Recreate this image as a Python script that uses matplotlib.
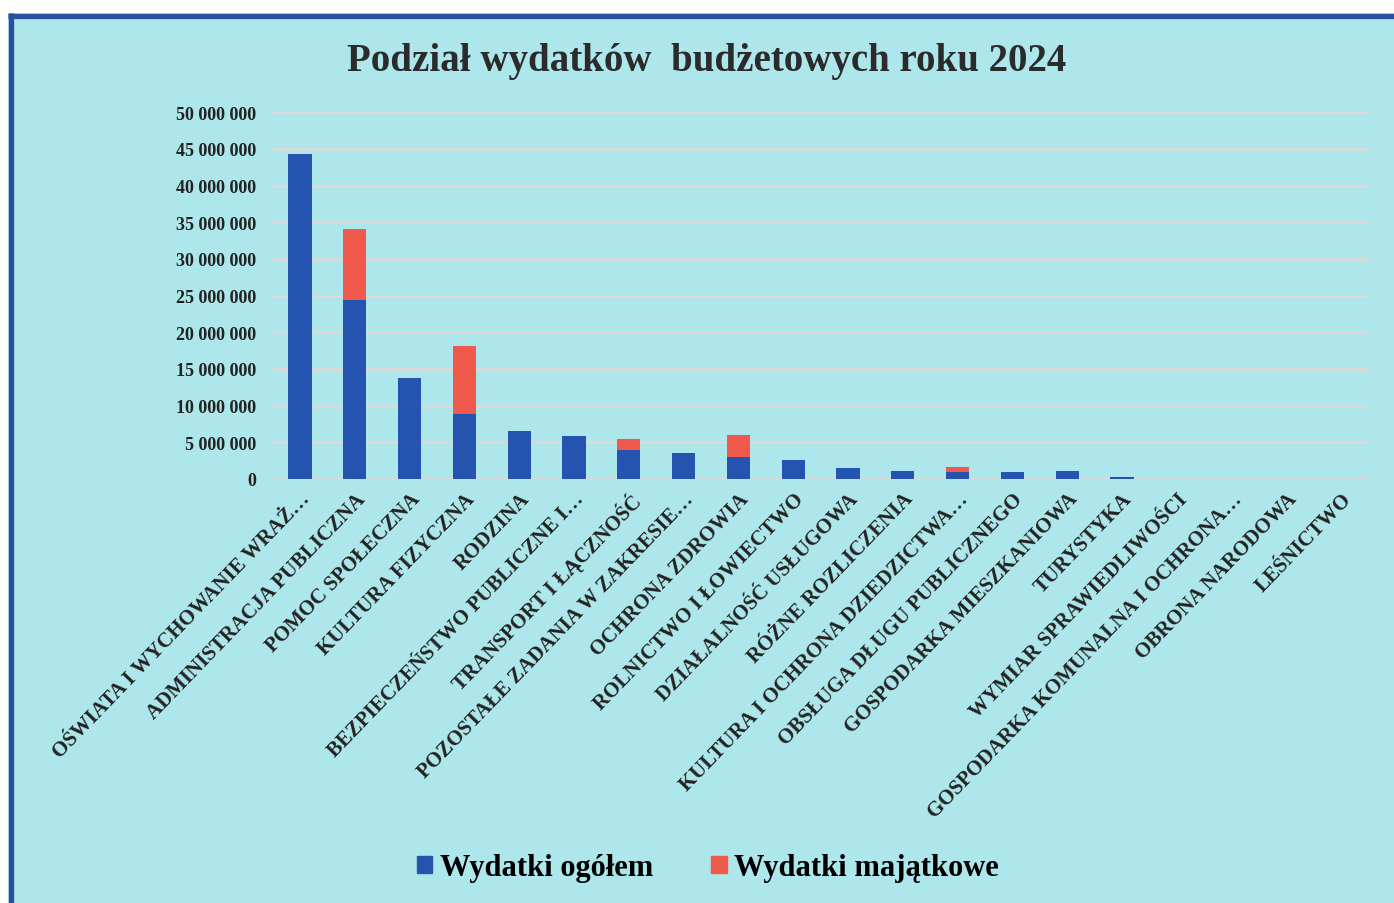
import matplotlib.pyplot as plt
import matplotlib.ticker as mticker
from matplotlib.patches import Rectangle, Patch
from matplotlib.lines import Line2D

# dane (w zł)
kategorie = [
    "OŚWIATA I WYCHOWANIE WRAŻ…", "ADMINISTRACJA PUBLICZNA", "POMOC SPOŁECZNA",
    "KULTURA FIZYCZNA", "RODZINA", "BEZPIECZEŃSTWO PUBLICZNE I…",
    "TRANSPORT I ŁĄCZNOŚĆ", "POZOSTAŁE ZADANIA W ZAKRESIE…", "OCHRONA ZDROWIA",
    "ROLNICTWO I ŁOWIECTWO", "DZIAŁALNOŚĆ USŁUGOWA", "RÓŻNE ROZLICZENIA",
    "KULTURA I OCHRONA DZIEDZICTWA…", "OBSŁUGA DŁUGU PUBLICZNEGO",
    "GOSPODARKA MIESZKANIOWA", "TURYSTYKA", "WYMIAR SPRAWIEDLIWOŚCI",
    "GOSPODARKA KOMUNALNA I OCHRONA…", "OBRONA NARODOWA", "LEŚNICTWO",
]
wydatki_ogolem = [44.3e6, 24.45e6, 13.8e6, 8.9e6, 6.5e6, 5.8e6, 4.0e6, 3.6e6,
                  2.95e6, 2.6e6, 1.45e6, 1.15e6, 0.9e6, 0.9e6, 1.1e6, 0.3e6,
                  0.05e6, 0.02e6, 0.01e6, 0.005e6]
wydatki_majatkowe = [0, 9.65e6, 0, 9.3e6, 0, 0, 1.45e6, 0, 3.1e6, 0, 0, 0,
                     0.8e6, 0, 0, 0, 0, 0, 0, 0]
y_ticks = list(range(0, 50000001, 5000000))

BG = "#aee7eb"
BLUE = "#2553b0"
RED = "#ef5a4c"
FONT = "Liberation Serif"

fig = plt.figure(figsize=(13.94, 9.04), dpi=100)
fig.patch.set_facecolor("white")
# tlo z ramka
fig.patches.append(Rectangle((8 / 1394, 0), 1, (904 - 14) / 904,
                             transform=fig.transFigure, facecolor=BG,
                             edgecolor="none", zorder=-5))
fig.lines.append(Line2D([10.5 / 1394, 10.5 / 1394], [0, (904 - 14) / 904],
                        transform=fig.transFigure, color="#2a4f9c", lw=3.8,
                        solid_capstyle="butt", zorder=-4))
fig.lines.append(Line2D([8 / 1394, 1], [(904 - 16.5) / 904] * 2,
                        transform=fig.transFigure, color="#2a4f9c", lw=3.8,
                        solid_capstyle="butt", zorder=-4))

ax = fig.add_axes([272.6 / 1394, 1 - 480 / 904, 1096 / 1394, (480 - 113.3) / 904])
ax.set_facecolor("none")

x = list(range(len(kategorie)))
ax.bar(x, wydatki_ogolem, width=0.42, color=BLUE, zorder=3, label="Wydatki ogółem")
ax.bar(x, wydatki_majatkowe, width=0.42, bottom=wydatki_ogolem, color=RED,
       zorder=3, label="Wydatki majątkowe")

ax.set_xlim(-0.5, len(kategorie) - 0.5)
ax.set_ylim(0, 50000000)
ax.set_yticks(y_ticks)
ax.yaxis.set_major_formatter(mticker.FuncFormatter(lambda v, p: f"{int(v):,}".replace(",", " ")))
ax.grid(axis="y", color="#e3d6d6", lw=1.8, zorder=0)
for s in ax.spines.values():
    s.set_visible(False)
ax.tick_params(axis="both", length=0)
ax.tick_params(axis="y", pad=12)

for lab in ax.get_yticklabels():
    lab.set_fontfamily(FONT)
    lab.set_fontweight("bold")
    lab.set_fontsize(13)
    lab.set_color("#222222")

ax.set_xticks(x)
ax.set_xticklabels(kategorie, rotation=46, ha="right", rotation_mode="anchor",
                   fontfamily=FONT, fontweight="bold", fontsize=15, color="#222222")
ax.tick_params(axis="x", pad=7)
for lab in ax.get_xticklabels():
    # koniec etykiety lekko na lewo od srodka slupka
    lab.set_x(lab.get_position()[0])

fig.text(0.507, 1 - 61 / 904, "Podział wydatków  budżetowych roku 2024",
         ha="center", va="center", fontfamily=FONT, fontweight="bold",
         fontsize=28, color="#2b2b2b")

handles = [Patch(color=BLUE, label="Wydatki ogółem"),
           Patch(color=RED, label="Wydatki majątkowe")]
fig.legend(handles=handles, loc="center", bbox_to_anchor=(0.508, 1 - 869 / 904),
           ncol=2, frameon=False, handlelength=0.5, handleheight=0.5,
           handletextpad=0.25, columnspacing=1.9,
           prop={"family": FONT, "weight": "bold", "size": 22})

fig.savefig("out.png", dpi=100, facecolor=fig.get_facecolor())
